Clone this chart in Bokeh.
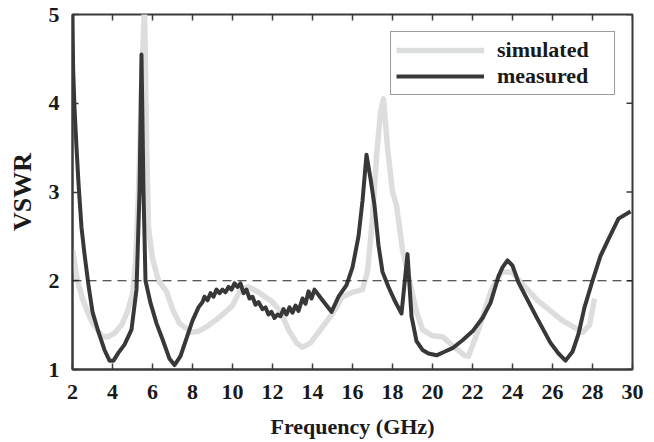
import math
from bokeh.plotting import figure
from bokeh.models import Range1d, Span, Legend, LegendItem, FixedTicker
from bokeh.embed import file_html
from bokeh.resources import INLINE

meas_f = [2.0, 2.03, 2.1, 2.2, 2.3, 2.45, 2.6, 2.8, 3.0, 3.3, 3.6, 3.85, 4.05, 4.3, 4.6, 4.95,
          5.2, 5.35, 5.45, 5.55, 5.65, 5.9, 6.2, 6.5, 6.85, 7.1, 7.4, 7.7, 8.0, 8.3, 8.5, 8.6,
          8.75, 8.9, 9.05, 9.2, 9.35, 9.5, 9.65, 9.8, 9.95, 10.1, 10.25, 10.4, 10.55, 10.7,
          10.85, 11.0, 11.15, 11.3, 11.5, 11.65, 11.8, 11.95, 12.1, 12.25, 12.4, 12.55, 12.7,
          12.85, 13.0, 13.15, 13.3, 13.5, 13.65, 13.8, 13.95, 14.1, 14.5, 14.95, 15.3, 15.7,
          16.0, 16.3, 16.5, 16.7, 16.9, 17.1, 17.3, 17.5, 17.8, 18.1, 18.45, 18.75, 18.95,
          19.2, 19.5, 19.8, 20.2, 20.6, 21.0, 21.5, 22.0, 22.5, 22.9, 23.3, 23.5, 23.75, 24.0,
          24.3, 24.6, 25.2, 25.9, 26.3, 26.65, 27.0, 27.3, 27.6, 28.0, 28.4, 28.8, 29.3, 29.9]
meas_v = [5.0, 4.4, 3.95, 3.5, 3.1, 2.6, 2.3, 1.95, 1.65, 1.42, 1.22, 1.1, 1.1, 1.19, 1.28, 1.45,
          1.9, 3.0, 4.55, 3.0, 2.0, 1.75, 1.52, 1.34, 1.12, 1.05, 1.15, 1.35, 1.55, 1.7, 1.76, 1.82,
          1.78, 1.86, 1.82, 1.9, 1.86, 1.9, 1.87, 1.93, 1.9, 1.97, 1.93, 1.97, 1.86, 1.9,
          1.8, 1.82, 1.73, 1.76, 1.68, 1.7, 1.62, 1.65, 1.58, 1.62, 1.6, 1.68, 1.62,
          1.7, 1.64, 1.72, 1.66, 1.8, 1.74, 1.88, 1.8, 1.9, 1.78, 1.65, 1.82, 1.95,
          2.15, 2.5, 2.9, 3.42, 3.15, 2.85, 2.4, 2.1, 1.93, 1.78, 1.63, 2.3, 1.6,
          1.32, 1.22, 1.18, 1.16, 1.2, 1.24, 1.33, 1.43, 1.58, 1.75, 2.05, 2.15, 2.23, 2.17,
          1.98, 1.85, 1.59, 1.3, 1.18, 1.1, 1.2, 1.4, 1.7, 2.0, 2.28, 2.47, 2.7, 2.78]

sim_f = [2.0, 2.25, 2.5, 2.7, 3.0, 3.5, 3.8, 4.1, 4.45, 4.75, 5.0, 5.15, 5.3, 5.45, 5.6, 5.7,
         5.8, 6.0, 6.3, 6.7, 7.0, 7.35, 7.95, 8.3, 8.7, 9.3, 10.0, 10.4, 10.8, 11.3, 12.0, 12.4,
         12.8, 13.2, 13.5, 13.9, 14.3, 15.0, 15.5, 16.0, 16.5, 16.75, 17.0, 17.2, 17.4, 17.55,
         17.75, 18.0, 18.2, 18.5, 18.85, 19.2, 19.5, 20.0, 20.5, 21.0, 21.6, 21.8, 22.3, 22.95,
         23.45, 23.95, 24.35, 25.25, 26.5, 27.5, 27.85, 28.1]
sim_v = [2.35, 2.0, 1.8, 1.68, 1.52, 1.37, 1.37, 1.41, 1.5, 1.65, 1.85, 2.2, 3.0, 4.2, 5.1, 3.6,
         2.6, 2.25, 2.0, 1.88, 1.68, 1.52, 1.42, 1.43, 1.48, 1.58, 1.72, 1.9, 1.93, 1.87, 1.76, 1.65,
         1.45, 1.3, 1.25, 1.3, 1.42, 1.63, 1.82, 1.87, 1.9, 2.1, 2.7, 3.4, 3.9, 4.05,
         3.5, 3.0, 2.85, 2.35, 2.0, 1.65, 1.45, 1.38, 1.37, 1.27, 1.16, 1.15, 1.45, 1.9,
         2.1, 2.1, 2.0, 1.78, 1.55, 1.42, 1.5, 1.8]

x_ticks = [2, 4, 6, 8, 10, 12, 14, 16, 18, 20, 22, 24, 26, 28, 30]
y_ticks = [1, 2, 3, 4, 5]
ref_level = 2
x_min, x_max = 2, 30
y_min, y_max = 1, 5

FONT = "Liberation Serif"
AX = "#3a3a3a"
TXT = "#1a1a1a"

p = figure(width=650, height=442, output_backend="svg", toolbar_location=None,
           x_range=Range1d(x_min, x_max), y_range=Range1d(y_min, y_max),
           min_border_left=72, min_border_right=18, min_border_top=14, min_border_bottom=73)
p.grid.visible = False
p.background_fill_color = "white"
p.border_fill_color = "white"
p.outline_line_color = AX
p.outline_line_width = 2

for ax in (p.xaxis[0], p.yaxis[0]):
    ax.axis_line_color = AX
    ax.axis_line_width = 2
    ax.major_tick_in = 6
    ax.major_tick_out = 0
    ax.major_tick_line_color = AX
    ax.major_tick_line_width = 1.5
    ax.minor_tick_line_color = None
    ax.major_label_text_font = FONT
    ax.major_label_text_font_style = "bold"
    ax.major_label_text_font_size = "22px"
    ax.major_label_text_color = TXT
    ax.axis_label_text_font = FONT
    ax.axis_label_text_font_style = "bold"
    ax.axis_label_text_color = TXT

p.xaxis.ticker = FixedTicker(ticks=x_ticks)
p.yaxis.ticker = FixedTicker(ticks=y_ticks)
p.xaxis.major_label_standoff = 15
p.yaxis.major_label_standoff = 13
p.xaxis.axis_label = "Frequency (GHz)"
p.yaxis.axis_label = "VSWR"
p.xaxis.axis_label_text_font_size = "22px"
p.yaxis.axis_label_text_font_size = "26px"
p.xaxis.axis_label_standoff = 12
p.yaxis.axis_label_standoff = 9

# mirrored inward ticks on the top and right edges of the frame
p.ray(x=x_ticks, y=[y_max] * len(x_ticks), length=6, length_units="screen",
      angle=-math.pi / 2, line_color=AX, line_width=1.5)
p.ray(x=[x_max] * len(y_ticks), y=y_ticks, length=6, length_units="screen",
      angle=math.pi, line_color=AX, line_width=1.5)

p.add_layout(Span(location=ref_level, dimension="width", line_color="#222222",
                  line_width=1, line_dash="9 6"))

r_sim = p.line(sim_f, sim_v, line_color="#dcdede", line_width=5.5, line_join="round")
r_meas = p.line(meas_f, meas_v, line_color="#383838", line_width=4, line_join="round")

legend = Legend(items=[LegendItem(label="simulated", renderers=[r_sim]),
                       LegendItem(label="measured", renderers=[r_meas])],
                location="top_right")
legend.label_text_font = FONT
legend.label_text_font_style = "bold"
legend.label_text_font_size = "22px"
legend.label_text_color = TXT
legend.glyph_width = 88
legend.glyph_height = 20
legend.label_height = 20
legend.label_width = 112
legend.spacing = 0
legend.label_standoff = 13
legend.padding = 5
legend.margin = 17
legend.border_line_color = AX
legend.border_line_width = 1.5
legend.background_fill_alpha = 1
p.add_layout(legend)

open("out.html", "w").write(file_html(p, INLINE))
